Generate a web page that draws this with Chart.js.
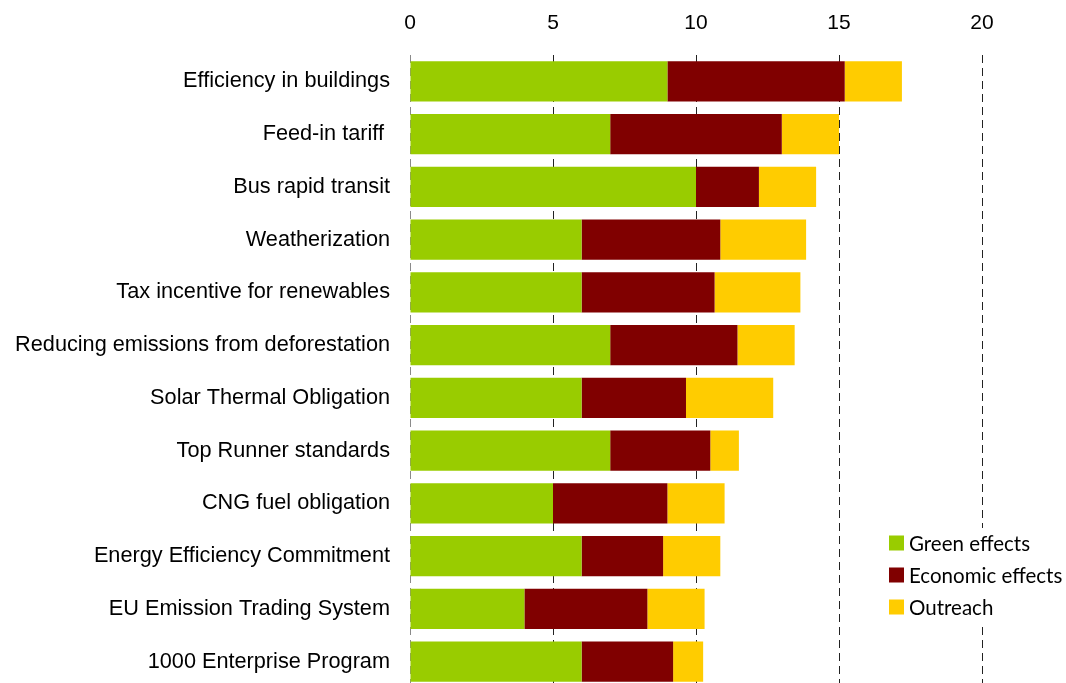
<!DOCTYPE html>
<html>
<head>
<meta charset="utf-8">
<script src="https://cdn.jsdelivr.net/npm/chart.js@4"></script>
<style>
html,body{margin:0;padding:0;background:#fff;overflow:hidden;}
canvas{display:block;}
</style>
</head>
<body>
<canvas id="c" width="1066" height="688" style="width:1066px;height:688px;"></canvas>
<script>
const categories = [
  "Efficiency in buildings",
  "Feed-in tariff ",
  "Bus rapid transit",
  "Weatherization",
  "Tax incentive for renewables",
  "Reducing emissions from deforestation",
  "Solar Thermal Obligation",
  "Top Runner standards",
  "CNG fuel obligation",
  "Energy Efficiency Commitment",
  "EU Emission Trading System",
  "1000 Enterprise Program"
];
const greenEffects    = [9, 7, 10, 6, 6, 7, 6, 7, 5, 6, 4, 6];
const economicEffects = [6.2, 6, 2.2, 4.85, 4.65, 4.45, 3.65, 3.5, 4, 2.85, 4.3, 3.2];
const outreach        = [2, 2, 2, 3, 3, 2, 3.05, 1, 2, 2, 2, 1.05];
const seriesNames = ["Green effects", "Economic effects", "Outreach"];
const seriesColors = ["#99CC00", "#800000", "#FFCC00"];
const xTicks = [0, 5, 10, 15, 20];

const legendPlugin = {
  id: 'customLegend',
  afterDraw(chart) {
    const ctx = chart.ctx;
    const x0 = 889, y0 = 543, dy = 32, box = 15;
    ctx.save();
    ctx.fillStyle = '#fff';
    ctx.fillRect(876, 528, 190, 94);
    ctx.font = '20.5px Lato, "Open Sans", sans-serif';
    ctx.textBaseline = 'middle';
    chart.data.datasets.forEach((ds, i) => {
      const y = y0 + i * dy;
      ctx.fillStyle = ds.backgroundColor;
      ctx.fillRect(x0, y - box / 2, box, box);
      ctx.fillStyle = '#000';
      ctx.fillText(ds.label, x0 + box + 5, y + 1);
    });
    ctx.restore();
  }
};

new Chart(document.getElementById('c'), {
  type: 'bar',
  data: {
    labels: categories,
    datasets: [
      { label: seriesNames[0], data: greenEffects, backgroundColor: seriesColors[0] },
      { label: seriesNames[1], data: economicEffects, backgroundColor: seriesColors[1] },
      { label: seriesNames[2], data: outreach, backgroundColor: seriesColors[2] }
    ]
  },
  options: {
    indexAxis: 'y',
    responsive: false,
    maintainAspectRatio: false,
    animation: false,
    devicePixelRatio: 1,
    layout: { padding: { left: 0, right: 84, top: 0, bottom: 0 } },
    datasets: { bar: { categoryPercentage: 1.0, barPercentage: 0.76 } },
    plugins: { legend: { display: false }, tooltip: { enabled: false } },
    scales: {
      x: {
        position: 'top',
        stacked: true,
        min: 0, max: 20,
        afterBuildTicks(scale) { scale.ticks = xTicks.map(v => ({ value: v })); },
        afterFit(scale) { scale.height = 55; scale.paddingLeft = 0; scale.paddingRight = 0; },
        ticks: {
          color: '#000',
          font: { family: '"Liberation Sans", Arial, sans-serif', size: 21 },
          padding: 19,
          maxRotation: 0
        },
        grid: {
          drawTicks: false,
          color: ctx => ctx.index === 0 ? '#8a8a8a' : '#222',
          lineWidth: 1
        },
        border: { display: false, dash: [8, 5] }
      },
      y: {
        stacked: true,
        afterFit(scale) { scale.width = 410; scale.paddingTop = 0; scale.paddingBottom = 0; },
        ticks: {
          color: '#000',
          font: { family: '"Liberation Sans", Arial, sans-serif', size: 21.7 },
          padding: 20
        },
        grid: { display: false, drawTicks: false },
        border: { display: false }
      }
    }
  },
  plugins: [legendPlugin]
});
</script>
</body>
</html>
